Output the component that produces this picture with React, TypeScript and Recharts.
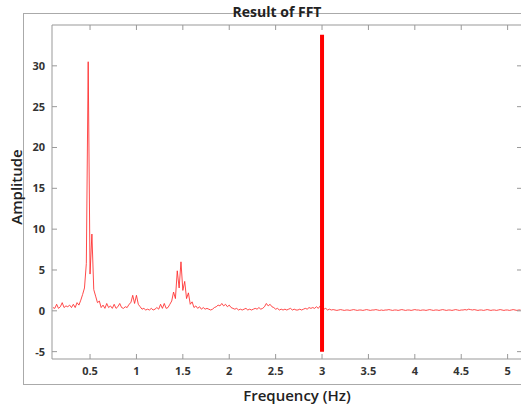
import { LineChart, Line, XAxis, YAxis, ReferenceLine } from 'recharts';

// FFT bins: first bin frequency and bin spacing (Hz)
const freqStart = 0.1;
const freqStep = 0.02;

// amplitude per bin
const amplitudes = [
  0.4, 0.3, 0.8, 0.3, 0.5, 1.0, 0.4, 0.6, 0.5, 0.7,
  0.4, 0.8, 0.4, 1.0, 0.7, 1.3, 2.0, 2.8, 5.8, 30.5,
  4.5, 9.4, 2.6, 1.8, 1.0, 1.2, 0.4, 0.7, 0.3, 0.9,
  0.4, 0.6, 0.3, 0.8, 0.3, 0.5, 0.9, 0.4, 0.3, 0.5,
  0.4, 0.8, 1.0, 1.9, 0.9, 1.9, 0.8, 0.5, 0.2, 0.3,
  0.1, 0.2, 0.1, 0.3, 0.1, 0.2, 0.4, 0.2, 0.8, 0.3,
  0.9, 0.3, 0.4, 0.8, 1.2, 2.3, 1.5, 4.9, 2.8, 6.0,
  2.5, 3.6, 1.5, 2.2, 0.8, 1.1, 0.4, 0.6, 0.3, 0.5,
  0.2, 0.4, 0.2, 0.3, 0.2, 0.1, 0.2, 0.4, 0.5, 0.7,
  0.6, 0.9, 0.6, 0.8, 0.5, 0.7, 0.4, 0.3, 0.2, 0.3,
  0.1, 0.2, 0.1, 0.2, 0.3, 0.1, 0.2, 0.1, 0.2, 0.3,
  0.2, 0.4, 0.2, 0.3, 0.5, 0.9, 0.6, 0.8, 0.5, 0.4,
  0.2, 0.3, 0.1, 0.2, 0.1, 0.2, 0.1, 0.2, 0.3, 0.1,
  0.2, 0.1, 0.1, 0.2, 0.1, 0.2, 0.3, 0.2, 0.4, 0.3,
  0.4, 0.3, 0.5, 0.3, 0.6, 0.3, 0.2, 0.3, 0.1, 0.2,
  0.1, 0.15, 0.1, 0.05, 0.1, 0.15, 0.1, 0.05, 0.1, 0.1,
  0.05, 0.1, 0.15, 0.1, 0.05, 0.1, 0.1, 0.05, 0.1, 0.15,
  0.1, 0.05, 0.1, 0.1, 0.15, 0.1, 0.05, 0.1, 0.05, 0.1,
  0.1, 0.15, 0.1, 0.05, 0.1, 0.1, 0.05, 0.1, 0.15, 0.1,
  0.05, 0.1, 0.1, 0.05, 0.1, 0.15, 0.1, 0.1, 0.05, 0.1,
  0.1, 0.05, 0.1, 0.15, 0.1, 0.05, 0.1, 0.1, 0.05, 0.1,
  0.15, 0.1, 0.05, 0.1, 0.1, 0.05, 0.1, 0.15, 0.1, 0.05,
  0.1, 0.1, 0.15, 0.1, 0.2, 0.15, 0.1, 0.15, 0.1, 0.05,
  0.1, 0.1, 0.05, 0.1, 0.15, 0.1, 0.05, 0.1, 0.1, 0.05,
  0.1, 0.15, 0.1, 0.05, 0.1, 0.1, 0.05, 0.1, 0.15, 0.1,
  0.05, 0.1, 0.1,
];

const xTicks = [0.5, 1, 1.5, 2, 2.5, 3, 3.5, 4, 4.5, 5];
const yTicks = [-5, 0, 5, 10, 15, 20, 25, 30];

// thick red marker at 3 Hz
const markerFreq = 3;
const markerRange = [-5, 33.8];

const data = amplitudes.map((a, i) => ({
  f: +(freqStart + i * freqStep).toFixed(2),
  a,
}));

const font = '"Open Sans", "DejaVu Sans", sans-serif';
const tickStyle = { fontSize: 11, fontWeight: 700, fill: '#333', fontFamily: font };
const axisGray = '#999';

export default function App() {
  return (
    <div style={{ position: 'absolute', left: 0, top: 0, width: 521, height: 405, overflow: 'hidden', background: '#fff' }}>
      <div
        style={{
          position: 'absolute', left: 23, top: 13, width: 600, height: 370,
          border: '1px solid #aaa',
        }}
      />
      <div
        style={{
          position: 'absolute', left: 0, top: 3, width: 554, textAlign: 'center',
          fontFamily: font, fontWeight: 700, fontSize: 14, color: '#222', lineHeight: '18px',
        }}
      >
        Result of FFT
      </div>
      <div style={{ position: 'absolute', left: 0, top: 0 }}>
        <LineChart width={530} height={405} data={data} margin={{ top: 24, right: 7, bottom: 0, left: 0 }}>
          <XAxis
            dataKey="f"
            type="number"
            domain={[0.09, 5.155]}
            ticks={xTicks}
            allowDataOverflow
            height={46}
            stroke={axisGray}
            tickSize={-5}
            tickMargin={13}
            tick={tickStyle}
            label={{ value: 'Frequency (Hz)', position: 'insideBottom', offset: 4, dx: 10, style: { fontSize: 15, fontWeight: 600, fill: '#222', fontFamily: font } }}
          />
          <XAxis
            xAxisId="top"
            orientation="top"
            dataKey="f"
            type="number"
            domain={[0.09, 5.155]}
            ticks={xTicks}
            allowDataOverflow
            height={1}
            stroke={axisGray}
            tickSize={-5}
            tickFormatter={() => ''}
          />
          <YAxis
            type="number"
            domain={[-5.9, 35]}
            ticks={yTicks}
            allowDataOverflow
            width={52}
            stroke={axisGray}
            tickSize={-5}
            tickMargin={12}
            tick={tickStyle}
            label={{ value: 'Amplitude', angle: -90, position: 'center', dx: -9, dy: -5, style: { fontSize: 15, fontWeight: 600, fill: '#222', fontFamily: font } }}
          />
          <YAxis
            yAxisId="right"
            orientation="right"
            type="number"
            domain={[-5.9, 35]}
            ticks={yTicks}
            allowDataOverflow
            width={1}
            stroke={axisGray}
            tickSize={-5}
            tickFormatter={() => ''}
          />
          <Line
            type="linear"
            dataKey="a"
            stroke="#ff2a2a"
            strokeWidth={1}
            strokeOpacity={0.85}
            dot={false}
            isAnimationActive={false}
          />
          <ReferenceLine
            segment={[
              { x: markerFreq, y: markerRange[0] },
              { x: markerFreq, y: markerRange[1] },
            ]}
            stroke="#ff0000"
            strokeWidth={4}
          />
        </LineChart>
      </div>
    </div>
  );
}
